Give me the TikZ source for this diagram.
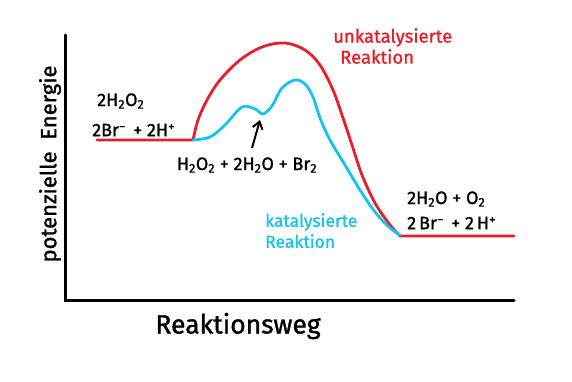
\documentclass[tikz,border=0pt]{standalone}
\usepackage{fontspec}
\setmainfont{Fira Sans}[FakeBold=1.2]
\newfontfamily\handfont{Fira Sans}[FakeBold=1.2]
\usetikzlibrary{arrows.meta}
\definecolor{curvered}{RGB}{232,30,40}
\definecolor{curveblue}{RGB}{20,195,240}
\newcommand{\ionsup}[1]{\raisebox{0.55ex}{\fontsize{13}{13}\selectfont #1}}
\tikzset{
  axisline/.style={line width=3pt, black},
  redcurve/.style={line width=2.8pt, curvered, line join=round, line cap=round},
  bluecurve/.style={line width=2.8pt, curveblue, line join=round, line cap=round},
  lbl/.style={font=\handfont\fontsize{18}{20}\selectfont, inner sep=0pt, text=black},
  redlbl/.style={font=\handfont\fontsize{18.5}{21}\selectfont, inner sep=0pt, text=curvered, align=left},
  bluelbl/.style={font=\handfont\fontsize{17.5}{21}\selectfont, inner sep=0pt, text=curveblue, align=left},
  pointer/.style={line width=2pt, black, -{Straight Barb[length=7pt,width=10pt]}}
}
\begin{document}
\begin{tikzpicture}[x=1pt,y=-1pt]
\useasboundingbox (0,0) rectangle (572,382);
% axes
\coordinate (ytop) at (65,35);
\coordinate (origin) at (65,300);
\coordinate (xend) at (514,300);
\draw[axisline, line cap=round, line join=miter] (ytop) -- (origin) -- (xend);
% unkatalysiert
\draw[redcurve] (97,140) -- (193,140)
  plot[smooth, tension=0.55] coordinates {(193,140) (198,120) (207,100) (220,80) (240,60) (262,47) (285,43) (305,50) (320,65) (333,90) (342,115) (352,145) (362,175) (375,203) (390,225) (400,236)}
  -- (514,236);
% katalysiert
\draw[bluecurve] plot[smooth, tension=0.55] coordinates {(193,140) (210,137) (225,125) (242,107) (255,109) (263,114) (272,106) (282,88) (295,80) (305,84) (313,97) (320,118) (330,140) (345,165) (360,190) (375,212) (390,228) (400,235)};
% arrow to intermediate
\coordinate (arrtail) at (252,148);
\coordinate (arrhead) at (260,120);
\draw[pointer] (arrtail) -- (arrhead);
% labels
\node[lbl, anchor=west] (edu1) at (97,101) {2H\textsubscript{2}O\textsubscript{2}};
\node[lbl, anchor=west] (edu2) at (92,130) {2Br\ionsup{−}\ \,+\ 2H\ionsup{+}};
\node[lbl] (inter) at (247,165) {H\textsubscript{2}O\textsubscript{2} + 2H\textsubscript{2}O + Br\textsubscript{2}};
\node[lbl, anchor=west] (pro1) at (407,199) {2H\textsubscript{2}O + O\textsubscript{2}};
\node[lbl, anchor=west] (pro2) at (407,223) {2\,Br\ionsup{−}\ \,+\ 2\,H\ionsup{+}};
\node[redlbl, anchor=north west] (unkat) at (333,28) {unkatalysierte\\\hspace*{7pt}Reaktion};
\node[bluelbl, anchor=north west] (kat) at (265,213) {katalysierte\\Reaktion};
\node[font=\handfont\fontsize{26.5}{28}\selectfont, inner sep=0pt] (xlab) at (238,326) {Reaktionsweg};
\node[font=\handfont\fontsize{22}{24}\selectfont, inner sep=0pt, rotate=90] (ylab) at (50,164) {potenzielle\ \ Energie};
\end{tikzpicture}
\end{document}
